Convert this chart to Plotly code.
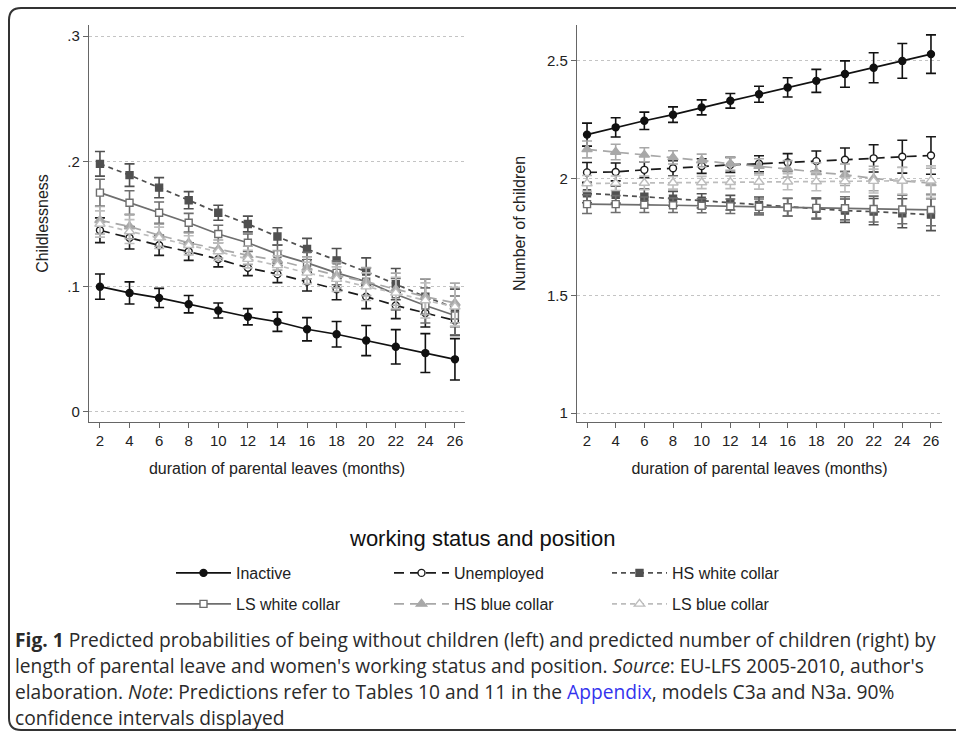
import plotly.graph_objects as go

W, H = 956, 735

months = [2, 4, 6, 8, 10, 12, 14, 16, 18, 20, 22, 24, 26]
month_labels = [str(m) for m in months]

# Left panel: childlessness (predicted probability) and 90% CI half-widths
inactive_c = [0.100, 0.095, 0.091, 0.086, 0.081, 0.076, 0.072, 0.066, 0.062, 0.057, 0.052, 0.047, 0.042]
inactive_c_ci = [0.0101, 0.0088, 0.0076, 0.0069, 0.0060, 0.0065, 0.0077, 0.0093, 0.0102, 0.0120, 0.0137, 0.0155, 0.0165]
unemp_c = [0.145, 0.139, 0.133, 0.128, 0.122, 0.115, 0.110, 0.104, 0.098, 0.092, 0.085, 0.079, 0.073]
unemp_c_ci = [0.0099, 0.0090, 0.0080, 0.0070, 0.0062, 0.0062, 0.0068, 0.0075, 0.0085, 0.0095, 0.0105, 0.0112, 0.0120]
hswc_c = [0.198, 0.189, 0.179, 0.169, 0.159, 0.150, 0.140, 0.130, 0.121, 0.112, 0.102, 0.092, 0.083]
hswc_c_ci = [0.0098, 0.0090, 0.0080, 0.0068, 0.0060, 0.0063, 0.0070, 0.0085, 0.0095, 0.0110, 0.0125, 0.0140, 0.0150]
lswc_c = [0.175, 0.167, 0.159, 0.151, 0.142, 0.135, 0.126, 0.119, 0.111, 0.104, 0.094, 0.085, 0.077]
lswc_c_ci = [0.0107, 0.0095, 0.0085, 0.0075, 0.0070, 0.0070, 0.0075, 0.0085, 0.0095, 0.0110, 0.0125, 0.0140, 0.0155]
hsbc_c = [0.153, 0.148, 0.141, 0.135, 0.130, 0.125, 0.121, 0.115, 0.109, 0.104, 0.098, 0.092, 0.087]
hsbc_c_ci = [0.0110, 0.0098, 0.0088, 0.0078, 0.0072, 0.0072, 0.0078, 0.0088, 0.0100, 0.0112, 0.0128, 0.0142, 0.0158]
lsbc_c = [0.150, 0.144, 0.139, 0.133, 0.128, 0.122, 0.117, 0.111, 0.106, 0.100, 0.095, 0.089, 0.084]
lsbc_c_ci = [0.0105, 0.0095, 0.0085, 0.0076, 0.0070, 0.0070, 0.0076, 0.0086, 0.0098, 0.0110, 0.0125, 0.0140, 0.0155]

# Right panel: number of children and 90% CI half-widths
inactive_n = [2.186, 2.217, 2.245, 2.271, 2.302, 2.330, 2.358, 2.387, 2.415, 2.444, 2.471, 2.500, 2.529]
inactive_n_ci = [0.049, 0.041, 0.037, 0.033, 0.032, 0.031, 0.034, 0.041, 0.049, 0.056, 0.064, 0.074, 0.082]
unemp_n = [2.025, 2.027, 2.036, 2.043, 2.052, 2.057, 2.062, 2.067, 2.073, 2.079, 2.085, 2.092, 2.097]
unemp_n_ci = [0.042, 0.038, 0.034, 0.032, 0.031, 0.032, 0.034, 0.038, 0.043, 0.050, 0.058, 0.070, 0.080]
hswc_n = [1.936, 1.930, 1.921, 1.913, 1.904, 1.896, 1.886, 1.877, 1.870, 1.862, 1.858, 1.851, 1.845]
hswc_n_ci = [0.040, 0.036, 0.033, 0.031, 0.030, 0.031, 0.034, 0.038, 0.043, 0.050, 0.056, 0.062, 0.068]
lswc_n = [1.890, 1.890, 1.887, 1.885, 1.883, 1.881, 1.878, 1.876, 1.874, 1.872, 1.869, 1.867, 1.865]
lswc_n_ci = [0.040, 0.036, 0.033, 0.031, 0.030, 0.031, 0.034, 0.038, 0.043, 0.049, 0.055, 0.061, 0.067]
hsbc_n = [2.123, 2.112, 2.100, 2.089, 2.076, 2.062, 2.052, 2.040, 2.026, 2.015, 1.999, 1.989, 1.979]
hsbc_n_ci = [0.036, 0.033, 0.030, 0.028, 0.027, 0.028, 0.031, 0.035, 0.040, 0.046, 0.052, 0.058, 0.064]
lsbc_n = [1.978, 1.979, 1.980, 1.981, 1.982, 1.983, 1.984, 1.985, 1.986, 1.987, 1.988, 1.989, 1.990]
lsbc_n_ci = [0.034, 0.031, 0.029, 0.027, 0.026, 0.027, 0.030, 0.034, 0.039, 0.045, 0.051, 0.057, 0.063]

series_names = ["Inactive", "Unemployed", "HS white collar", "LS white collar", "HS blue collar", "LS blue collar"]

styles = [
    dict(color="#111111", fill="#111111", dash="solid", symbol="circle", size=7, legend="legend"),
    dict(color="#1a1a1a", fill="#ffffff", dash="10px,6px", symbol="circle", size=7, legend="legend"),
    dict(color="#505050", fill="#505050", dash="5px,4px", symbol="square", size=7, legend="legend"),
    dict(color="#6e6e6e", fill="#ffffff", dash="solid", symbol="square", size=7, legend="legend2"),
    dict(color="#a8a8a8", fill="#a8a8a8", dash="10px,6px", symbol="triangle-up", size=9, legend="legend2"),
    dict(color="#bdbdbd", fill="#ffffff", dash="5px,4px", symbol="triangle-up", size=9, legend="legend2"),
]
left_vals = [(inactive_c, inactive_c_ci), (unemp_c, unemp_c_ci), (hswc_c, hswc_c_ci),
             (lswc_c, lswc_c_ci), (hsbc_c, hsbc_c_ci), (lsbc_c, lsbc_c_ci)]
right_vals = [(inactive_n, inactive_n_ci), (unemp_n, unemp_n_ci), (hswc_n, hswc_n_ci),
              (lswc_n, lswc_n_ci), (hsbc_n, hsbc_n_ci), (lsbc_n, lsbc_n_ci)]


def pxx(x):
    return x / W


def pyy(y):
    return 1 - y / H


fig = go.Figure()
for name, st, (lv, lci), (rv, rci) in zip(series_names, styles, left_vals, right_vals):
    common = dict(
        mode="lines+markers",
        line=dict(color=st["color"], width=1.7, dash=st["dash"]),
        marker=dict(symbol=st["symbol"], size=st["size"], color=st["fill"],
                    line=dict(color=st["color"], width=1.4)),
        name=name,
    )
    fig.add_trace(go.Scatter(
        x=months, y=lv,
        error_y=dict(type="data", array=lci, visible=True, color=st["color"], thickness=1.6, width=5),
        xaxis="x", yaxis="y", legend=st["legend"], showlegend=True, **common))
    fig.add_trace(go.Scatter(
        x=months, y=rv,
        error_y=dict(type="data", array=rci, visible=True, color=st["color"], thickness=1.6, width=5),
        xaxis="x2", yaxis="y2", showlegend=False, **common))

FONT = "Liberation Sans, Arial, sans-serif"
tickfont = dict(family=FONT, size=15, color="#222222")
axis_common = dict(showline=True, linecolor="#666666", linewidth=1.3, ticks="outside",
                   ticklen=5, tickwidth=1.2, tickcolor="#666666", zeroline=False,
                   tickfont=tickfont, automargin=False)

fig.update_layout(
    width=W, height=H,
    margin=dict(l=0, r=0, t=0, b=0),
    paper_bgcolor="white", plot_bgcolor="white",
    font=dict(family=FONT, color="#222222"),
    xaxis=dict(domain=[pxx(89), pxx(465)], range=[1.26, 26.68], anchor="y",
               tickvals=months, ticktext=month_labels, showgrid=False,
               title=dict(text="duration of parental leaves (months)", font=dict(size=16), standoff=14),
               **axis_common),
    yaxis=dict(domain=[pyy(422), pyy(25)], range=[-0.008, 0.3088], anchor="x",
               tickvals=[0, 0.1, 0.2, 0.3], ticktext=["0", ".1", ".2", ".3"],
               showgrid=True, gridcolor="#c4c4c4", griddash="dot", gridwidth=1,
               title=dict(text="Childlessness", font=dict(size=16), standoff=14),
               **axis_common),
    xaxis2=dict(domain=[pxx(577), pxx(942)], range=[1.30, 26.77], anchor="y2",
                tickvals=months, ticktext=month_labels, showgrid=False,
                title=dict(text="duration of parental leaves (months)", font=dict(size=16), standoff=14),
                **axis_common),
    yaxis2=dict(domain=[pyy(422), pyy(25)], range=[0.9617, 2.653], anchor="x2",
                tickvals=[1, 1.5, 2, 2.5], ticktext=["1", "1.5", "2", "2.5"],
                showgrid=True, gridcolor="#c4c4c4", griddash="dot", gridwidth=1,
                title=dict(text="Number of children", font=dict(size=16), standoff=17),
                **axis_common),
    legend=dict(orientation="h", x=pxx(171), xanchor="left", y=pyy(573), yanchor="middle",
                font=dict(family=FONT, size=16, color="#222222"), itemwidth=55,
                entrywidth=148, bgcolor="rgba(0,0,0,0)", tracegroupgap=0),
    legend2=dict(orientation="h", x=pxx(171), xanchor="left", y=pyy(604), yanchor="middle",
                 font=dict(family=FONT, size=16, color="#222222"), itemwidth=55,
                 entrywidth=148, bgcolor="rgba(0,0,0,0)", tracegroupgap=0),
    showlegend=True,
)

# legend title
fig.add_annotation(text="working status and position", x=pxx(482), y=pyy(538),
                   xref="paper", yref="paper", showarrow=False, xanchor="center", yanchor="middle",
                   font=dict(family=FONT, size=22, color="#111111"))

CAP = "Open Sans, Noto Sans, sans-serif"
caption_lines = [
    "<b>Fig. 1</b> Predicted probabilities of being without children (left) and predicted number of children (right) by",
    "length of parental leave and women's working status and position. <i>Source</i>: EU-LFS 2005-2010, author's",
    "elaboration. <i>Note</i>: Predictions refer to Tables 10 and 11 in the <span style='color:#3333ee'>Appendix</span>, models C3a and N3a. 90%",
    "confidence intervals displayed",
]
caption_y = [639, 665, 691, 717]
for line, yy in zip(caption_lines, caption_y):
    fig.add_annotation(text=line, x=pxx(13), y=pyy(yy), xref="paper", yref="paper",
                       showarrow=False, xanchor="left", yanchor="middle",
                       font=dict(family=CAP, size=19.2, color="#2a2a2a"))

# outer rounded frame
x0, y0, x1, y1, r = 9, 8, 975, 730, 12
path = (f"M {pxx(x1)},{pyy(y0)} L {pxx(x0 + r)},{pyy(y0)} "
        f"Q {pxx(x0)},{pyy(y0)} {pxx(x0)},{pyy(y0 + r)} "
        f"L {pxx(x0)},{pyy(y1 - r)} Q {pxx(x0)},{pyy(y1)} {pxx(x0 + r)},{pyy(y1)} "
        f"L {pxx(x1)},{pyy(y1)}")
fig.add_shape(type="path", path=path, xref="paper", yref="paper",
              line=dict(color="#333333", width=2))

fig.write_html("out.html",
               config={"displayModeBar": False},
               post_script="document.body.style.margin='0px';document.body.style.overflow='hidden';")
